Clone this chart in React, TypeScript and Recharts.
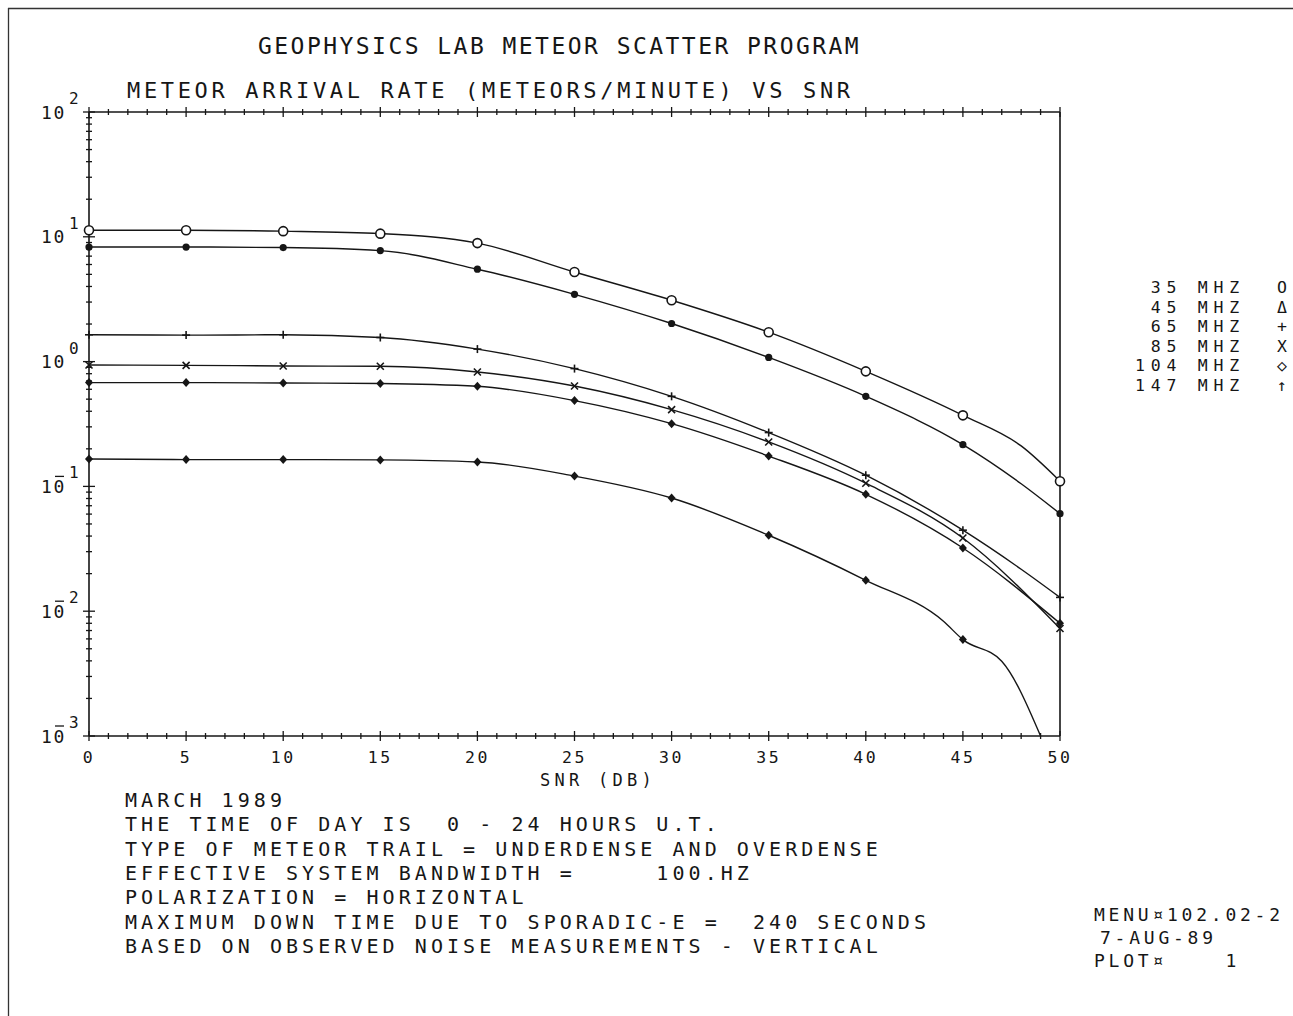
import React from 'react'
import { LineChart, Line, XAxis, YAxis } from 'recharts'

// SNR (dB) sample points; markers only at multiples of 5
const SNR = [0, 5, 10, 15, 20, 25, 30, 35, 40, 44, 45, 47, 48, 49, 50]

// meteors / minute
const R35  = [11.3, 11.3, 11.1, 10.6, 8.9, 5.22, 3.1, 1.72, 0.835, null, 0.371, null, 0.211, null, 0.11]
const R45  = [8.28, 8.28, 8.2, 7.75, 5.5, 3.46, 2.02, 1.08, 0.527, null, 0.216, null, 0.105, null, 0.0605]
const R65  = [1.64, 1.63, 1.64, 1.56, 1.26, 0.879, 0.527, 0.27, 0.123, null, 0.0446, null, 0.0217, null, 0.0129]
const R85  = [0.94, 0.933, 0.923, 0.917, 0.826, 0.637, 0.412, 0.227, 0.106, null, 0.0386, null, null, null, 0.00726]
const R104 = [0.679, 0.679, 0.674, 0.668, 0.634, 0.487, 0.318, 0.175, 0.0865, null, 0.0321, null, null, null, 0.008]
const R147 = [0.166, 0.164, 0.164, 0.163, 0.157, 0.121, 0.0807, 0.0406, 0.0177, 0.0083, 0.00592, 0.00397, null, 0.001, null]

const X_LABELS = [0, 5, 10, 15, 20, 25, 30, 35, 40, 45, 50]
const DECADES = [-3, -2, -1, 0, 1, 2]

const LEGEND_FREQ = ['35', '45', '65', '85', '104', '147']
const LEGEND_SYM = ['O', 'Δ', '+', 'X', '◇', '↑']

const NOTES = [
  'MARCH 1989',
  'THE TIME OF DAY IS  0 - 24 HOURS U.T.',
  'TYPE OF METEOR TRAIL = UNDERDENSE AND OVERDENSE',
  'EFFECTIVE SYSTEM BANDWIDTH =     100.HZ',
  'POLARIZATION = HORIZONTAL',
  'MAXIMUM DOWN TIME DUE TO SPORADIC-E =  240 SECONDS',
  'BASED ON OBSERVED NOISE MEASUREMENTS - VERTICAL',
]

const INK = '#161616'
const FONT = "'DejaVu Sans Mono', 'Liberation Mono', monospace"

const rows = SNR.map((s, i) => ({
  snr: s, f35: R35[i], f45: R45[i], f65: R65[i], f85: R85[i], f104: R104[i], f147: R147[i],
}))

const xMinor = Array.from({ length: 51 }, (_, i) => i)
const yMinor: number[] = []
DECADES.forEach((d) => {
  for (let m = 1; m <= 9; m++) {
    if (d === 2 && m > 1) break
    yMinor.push(+(m * Math.pow(10, d)).toPrecision(3))
  }
})

const txt = (fs: number, pitch: number) => ({
  fontFamily: FONT,
  fontSize: fs,
  letterSpacing: pitch - 0.602 * fs,
  fill: INK,
  whiteSpace: 'pre' as const,
})

function XTick(props: any) {
  const { x, y, payload, side } = props
  const v = payload.value
  const major = v % 5 === 0
  const len = major ? 5 : 3
  return (
    <g>
      <line x1={x} x2={x} y1={y - len} y2={y + len} stroke={INK} strokeWidth={1.3} />
      {side === 'bottom' && X_LABELS.includes(v) && (
        <text x={x} y={y + 27} textAnchor="middle" style={txt(16.5, 12.5)}>{v}</text>
      )}
    </g>
  )
}

function YTick(props: any) {
  const { x, y, payload, side } = props
  const v = payload.value
  const p = Math.log10(v)
  const e = Math.round(p)
  const major = Math.abs(p - e) < 1e-6
  const len = major ? 6 : 3
  const left = side === 'left'
  const tx = left ? x - 48 : x + 12
  return (
    <g>
      <line x1={x - len} x2={x + len} y1={y} y2={y} stroke={INK} strokeWidth={1.3} />
      {major && (
        <g>
          <text x={tx} y={y + 6.5} style={txt(18, 12.5)}>10</text>
          {e < 0 && <line x1={tx + 14} x2={tx + 23} y1={y - 10} y2={y - 10} stroke={INK} strokeWidth={1.3} />}
          <text x={tx + 28} y={y - 8} style={txt(16, 10)}>{Math.abs(e)}</text>
        </g>
      )}
    </g>
  )
}

function makeDot(kind: string) {
  return (props: any) => {
    const { cx, cy, payload, index } = props
    if (!Number.isFinite(cx) || !Number.isFinite(cy) || payload.snr % 5 !== 0) return <g key={index} />
    if (kind === 'circle') return <circle key={index} cx={cx} cy={cy} r={4.5} fill="#fff" stroke={INK} strokeWidth={1.6} />
    if (kind === 'dot') return <circle key={index} cx={cx} cy={cy} r={3.6} fill={INK} />
    if (kind === 'plus') return (
      <g key={index} stroke={INK} strokeWidth={1.6}>
        <line x1={cx - 4} x2={cx + 4} y1={cy} y2={cy} />
        <line x1={cx} x2={cx} y1={cy - 4} y2={cy + 4} />
      </g>
    )
    if (kind === 'x') return (
      <g key={index} stroke={INK} strokeWidth={1.6}>
        <line x1={cx - 3.5} x2={cx + 3.5} y1={cy - 3.5} y2={cy + 3.5} />
        <line x1={cx - 3.5} x2={cx + 3.5} y1={cy + 3.5} y2={cy - 3.5} />
      </g>
    )
    return <polygon key={index} points={`${cx},${cy - 4.5} ${cx + 4},${cy} ${cx},${cy + 4.5} ${cx - 4},${cy}`} fill={INK} />
  }
}

const SERIES = [
  { key: 'f35', dot: 'circle' },
  { key: 'f45', dot: 'dot' },
  { key: 'f65', dot: 'plus' },
  { key: 'f85', dot: 'x' },
  { key: 'f104', dot: 'diamond' },
  { key: 'f147', dot: 'diamond' },
]

export default function App() {
  const axisLine = { stroke: INK, strokeWidth: 1.6 }
  return (
    <div style={{ position: 'fixed', left: 0, top: 0, width: 1293, height: 1016, background: '#fff', overflow: 'hidden' }}>
      <LineChart width={1293} height={1016} data={rows} margin={{ top: 82, left: 49, right: 193, bottom: 250 }}>
        <XAxis xAxisId="b" dataKey="snr" type="number" domain={[0, 50]} ticks={xMinor} interval={0}
          orientation="bottom" height={30} tickSize={0} tickMargin={0} tickLine={false}
          axisLine={axisLine} tick={<XTick side="bottom" />} />
        <XAxis xAxisId="t" dataKey="snr" type="number" domain={[0, 50]} ticks={xMinor} interval={0}
          orientation="top" height={30} tickSize={0} tickMargin={0} tickLine={false}
          axisLine={axisLine} tick={<XTick side="top" />} />
        <YAxis yAxisId="l" type="number" scale="log" domain={[0.001, 100]} ticks={yMinor} interval={0}
          orientation="left" width={40} tickSize={0} tickMargin={0} tickLine={false}
          axisLine={axisLine} tick={<YTick side="left" />} />
        <YAxis yAxisId="r" type="number" scale="log" domain={[0.001, 100]} ticks={yMinor} interval={0}
          orientation="right" width={40} tickSize={0} tickMargin={0} tickLine={false}
          axisLine={axisLine} tick={<YTick side="right" />} />
        {SERIES.map((s) => (
          <Line key={s.key} xAxisId="b" yAxisId="l" dataKey={s.key} type="monotone"
            stroke={INK} strokeWidth={1.4} connectNulls dot={makeDot(s.dot)} activeDot={false}
            isAnimationActive={false} />
        ))}
      </LineChart>

      <svg width={1293} height={1016} style={{ position: 'absolute', left: 0, top: 0, pointerEvents: 'none' }}>
        {/* page frame */}
        <line x1={8.5} x2={8.5} y1={8} y2={1016} stroke="#333" strokeWidth={1.3} />
        <line x1={8} x2={1293} y1={8.5} y2={8.5} stroke="#333" strokeWidth={1.3} />

        <text x={258} y={54} style={txt(23, 16.3)}>GEOPHYSICS LAB METEOR SCATTER PROGRAM</text>
        <text x={127} y={98} style={txt(22, 16.9)}>METEOR ARRIVAL RATE (METEORS/MINUTE) VS SNR</text>

        <text x={540} y={786} style={txt(17, 14.5)}>SNR (DB)</text>

        {NOTES.map((line, i) => (
          <text key={i} x={125} y={807 + i * 24.3} style={txt(20, 16.1)}>{line}</text>
        ))}

        {LEGEND_FREQ.map((f, i) => (
          <g key={f}>
            <text x={1135} y={293 + i * 19.6} style={txt(16.5, 15.7)}>{f.padStart(3, ' ') + ' MHZ'}</text>
            <text x={1277} y={293 + i * 19.6} style={txt(16.5, 10)}>{LEGEND_SYM[i]}</text>
          </g>
        ))}

        <text x={1094} y={921} style={txt(18, 14.6)}>MENU¤102.02-2</text>
        <text x={1100} y={944} style={txt(18, 14.6)}>7-AUG-89</text>
        <text x={1094} y={967} style={txt(18, 14.6)}>PLOT¤    1</text>
      </svg>
    </div>
  )
}
